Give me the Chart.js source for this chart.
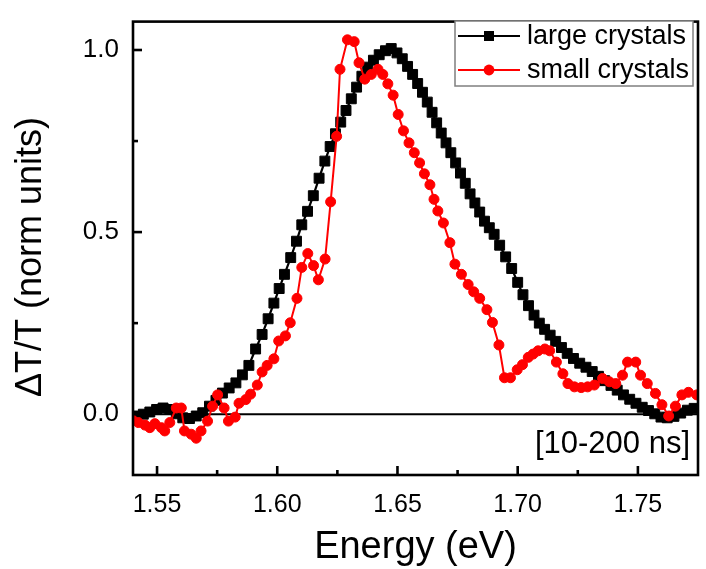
<!DOCTYPE html>
<html>
<head>
<meta charset="utf-8">
<script src="https://cdn.jsdelivr.net/npm/chart.js@4.4.1/dist/chart.umd.min.js"></script>
<style>
  html, body { margin: 0; padding: 0; background: #fff; }
  #wrap { width: 706px; height: 569px; }
</style>
</head>
<body>
<div id="wrap"><canvas id="spectrum" width="706" height="569"></canvas></div>
<script>
(function () {
    'use strict';

    // large crystals (black squares)
    const largeEnergy = [
        1.5415, 1.5443, 1.5470, 1.5498, 1.5525, 1.5553, 1.5580, 1.5607, 1.5635, 1.5663,
        1.5690, 1.5718, 1.5745, 1.5772, 1.5800, 1.5828, 1.5855, 1.5882, 1.5910, 1.5937,
        1.5962, 1.5986, 1.6008, 1.6030, 1.6056, 1.6080, 1.6102, 1.6126, 1.6150, 1.6174,
        1.6198, 1.6220, 1.6242, 1.6264, 1.6286, 1.6308, 1.6330, 1.6352, 1.6376, 1.6400,
        1.6424, 1.6450, 1.6474, 1.6498, 1.6520, 1.6542, 1.6563, 1.6584, 1.6604, 1.6624,
        1.6644, 1.6663, 1.6682, 1.6702, 1.6722, 1.6742, 1.6762, 1.6782, 1.6802, 1.6822,
        1.6842, 1.6862, 1.6882, 1.6902, 1.6925, 1.6950, 1.6975, 1.7000, 1.7022, 1.7045,
        1.7068, 1.7090, 1.7112, 1.7135, 1.7158, 1.7182, 1.7206, 1.7232, 1.7258, 1.7284,
        1.7310, 1.7336, 1.7362, 1.7388, 1.7414, 1.7440, 1.7466, 1.7492, 1.7518, 1.7544,
        1.7570, 1.7596, 1.7622, 1.7650, 1.7678, 1.7706, 1.7734
    ];
    const largeSignal = [
        -0.005, 0.000, 0.006, 0.013, 0.017, 0.013, 0.001, -0.010, -0.012, -0.005,
        0.004, 0.022, 0.038, 0.058, 0.072, 0.086, 0.108, 0.134, 0.179, 0.219,
        0.262, 0.305, 0.345, 0.384, 0.430, 0.475, 0.520, 0.557, 0.600, 0.648,
        0.695, 0.735, 0.770, 0.802, 0.834, 0.866, 0.898, 0.928, 0.953, 0.972,
        0.987, 0.998, 1.004, 0.992, 0.976, 0.955, 0.933, 0.908, 0.884, 0.857,
        0.829, 0.800, 0.772, 0.745, 0.718, 0.690, 0.662, 0.634, 0.605, 0.580,
        0.555, 0.530, 0.512, 0.494, 0.464, 0.432, 0.400, 0.362, 0.328, 0.298,
        0.272, 0.250, 0.233, 0.217, 0.200, 0.183, 0.167, 0.153, 0.140, 0.129,
        0.117, 0.104, 0.092, 0.079, 0.066, 0.053, 0.041, 0.030, 0.019, 0.010,
        0.001, -0.008, -0.010, -0.006, 0.003, 0.011, 0.016
    ];

    // small crystals (red circles)
    const smallEnergy = [
        1.5395, 1.5422, 1.5450, 1.5470, 1.5491, 1.5518, 1.5532, 1.5553, 1.5580, 1.5601,
        1.5614, 1.5642, 1.5663, 1.5683, 1.5710, 1.5731, 1.5752, 1.5779, 1.5797, 1.5825,
        1.5841, 1.5869, 1.5889, 1.5917, 1.5937, 1.5958, 1.5986, 1.6006, 1.6034, 1.6054,
        1.6082, 1.6102, 1.6127, 1.6151, 1.6171, 1.6199, 1.6222, 1.6247, 1.6261, 1.6292,
        1.6320, 1.6340, 1.6364, 1.6391, 1.6419, 1.6439, 1.6460, 1.6482, 1.6503, 1.6525,
        1.6548, 1.6570, 1.6592, 1.6612, 1.6635, 1.6652, 1.6668, 1.6691, 1.6718, 1.6739,
        1.6766, 1.6794, 1.6817, 1.6842, 1.6872, 1.6895, 1.6922, 1.6945, 1.6970, 1.6998,
        1.7020, 1.7044, 1.7064, 1.7085, 1.7113, 1.7133, 1.7161, 1.7188, 1.7209, 1.7236,
        1.7264, 1.7291, 1.7319, 1.7353, 1.7381, 1.7408, 1.7436, 1.7457, 1.7491, 1.7511,
        1.7539, 1.7573, 1.7600, 1.7628, 1.7656, 1.7683, 1.7710, 1.7745
    ];
    const smallSignal = [
        -0.014, -0.023, -0.030, -0.037, -0.026, -0.037, -0.046, -0.023, 0.017, 0.017,
        -0.046, -0.055, -0.066, -0.046, -0.019, 0.022, 0.053, 0.017, -0.019, -0.008,
        0.030, 0.040, 0.055, 0.080, 0.116, 0.134, 0.152, 0.201, 0.215, 0.251,
        0.318, 0.403, 0.441, 0.408, 0.369, 0.426, 0.583, 0.763, 0.947, 1.028,
        1.023, 0.965, 0.920, 0.933, 0.947, 0.933, 0.907, 0.876, 0.823, 0.778,
        0.745, 0.718, 0.690, 0.660, 0.630, 0.590, 0.558, 0.525, 0.471, 0.412,
        0.384, 0.356, 0.336, 0.318, 0.287, 0.252, 0.190, 0.100, 0.100, 0.122,
        0.136, 0.156, 0.165, 0.174, 0.179, 0.174, 0.143, 0.111, 0.084, 0.075,
        0.073, 0.075, 0.080, 0.098, 0.089, 0.084, 0.107, 0.143, 0.143, 0.107,
        0.084, 0.057, 0.026, -0.005, 0.022, 0.053, 0.060, 0.053
    ];

    const xMajorTicks = [1.55, 1.60, 1.65, 1.70, 1.75];
    const xMinorTicks = [1.575, 1.625, 1.675, 1.725];
    const yMajorTicks = [0.0, 0.5, 1.0];
    const yMinorTicks = [0.25, 0.75];
    const seriesLabels = ['large crystals', 'small crystals'];
    const yTitle = 'ΔT/T (norm units)';
    const timeWindow = '[10-200 ns]';

    const FONT = '"Liberation Sans", Arial, Helvetica, sans-serif';
    const BLACK = '#000000';
    const RED = '#ff0000';

    function toPoints(xs, ys) {
        return xs.map((x, i) => ({ x: x, y: ys[i] }));
    }

    // frame, inward ticks, zero line, legend and annotations
    const decorPlugin = {
        id: 'decor',
        beforeDatasetsDraw(chart) {
            const { ctx, chartArea: a, scales: { y } } = chart;
            const y0 = y.getPixelForValue(0);
            ctx.save();
            ctx.strokeStyle = BLACK;
            ctx.lineWidth = 2;
            ctx.beginPath();
            ctx.moveTo(a.left, y0);
            ctx.lineTo(a.right, y0);
            ctx.stroke();
            ctx.restore();
        },
        afterDatasetsDraw(chart) {
            const { ctx, chartArea: a, scales: { x, y } } = chart;
            ctx.save();
            ctx.strokeStyle = BLACK;
            ctx.lineWidth = 2.6;
            ctx.strokeRect(a.left, a.top, a.right - a.left, a.bottom - a.top);

            const tick = (px, len, horizontal) => {
                ctx.beginPath();
                if (horizontal) {
                    ctx.moveTo(px, a.bottom);
                    ctx.lineTo(px, a.bottom - len);
                } else {
                    ctx.moveTo(a.left, px);
                    ctx.lineTo(a.left + len, px);
                }
                ctx.stroke();
            };
            xMajorTicks.forEach(v => tick(x.getPixelForValue(v), 9, true));
            xMinorTicks.forEach(v => tick(x.getPixelForValue(v), 5, true));
            yMajorTicks.forEach(v => tick(y.getPixelForValue(v), 9, false));
            yMinorTicks.forEach(v => tick(y.getPixelForValue(v), 5, false));

            // time window label
            ctx.fillStyle = BLACK;
            ctx.font = '31px ' + FONT;
            ctx.textAlign = 'right';
            ctx.textBaseline = 'middle';
            ctx.fillText(timeWindow, a.right - 8, a.bottom - 31);

            // y axis title, sits a bit below the plot centre
            ctx.save();
            ctx.translate(31, 257);
            ctx.rotate(-Math.PI / 2);
            ctx.font = '36px ' + FONT;
            ctx.textAlign = 'center';
            ctx.textBaseline = 'middle';
            ctx.fillText(yTitle, 0, 0);
            ctx.restore();

            // legend box
            const lx = 455, ly = 21, lw = 238, lh = 65;
            ctx.fillStyle = '#ffffff';
            ctx.fillRect(lx, ly, lw, lh);
            ctx.strokeStyle = '#7f7f7f';
            ctx.lineWidth = 1.5;
            ctx.strokeRect(lx, ly, lw, lh);

            chart.data.datasets.forEach((ds, i) => {
                const rowY = ly + 15 + i * 34;
                ctx.strokeStyle = ds.borderColor;
                ctx.lineWidth = 2;
                ctx.beginPath();
                ctx.moveTo(lx + 3, rowY);
                ctx.lineTo(lx + 65, rowY);
                ctx.stroke();
                ctx.fillStyle = ds.pointBackgroundColor;
                if (ds.pointStyle === 'rect') {
                    ctx.fillRect(lx + 34 - 5, rowY - 5, 10, 10);
                } else {
                    ctx.beginPath();
                    ctx.arc(lx + 34, rowY, 5.4, 0, Math.PI * 2);
                    ctx.fill();
                }
                ctx.fillStyle = BLACK;
                ctx.font = '27px ' + FONT;
                ctx.textAlign = 'left';
                ctx.textBaseline = 'middle';
                ctx.fillText(ds.label, lx + 72, rowY + 1);
            });
            ctx.restore();
        }
    };

    const canvas = document.getElementById('spectrum');
    new Chart(canvas.getContext('2d'), {
        type: 'scatter',
        data: {
            datasets: [
                {
                    label: seriesLabels[0],
                    data: toPoints(largeEnergy, largeSignal),
                    showLine: true,
                    borderColor: BLACK,
                    borderWidth: 2.2,
                    pointStyle: 'rect',
                    pointRadius: 7,
                    pointBorderWidth: 1,
                    pointBackgroundColor: BLACK,
                    pointBorderColor: BLACK,
                    order: 2
                },
                {
                    label: seriesLabels[1],
                    data: toPoints(smallEnergy, smallSignal),
                    showLine: true,
                    borderColor: RED,
                    borderWidth: 2,
                    pointStyle: 'circle',
                    pointRadius: 5,
                    pointBorderWidth: 1,
                    pointBackgroundColor: RED,
                    pointBorderColor: RED,
                    order: 1
                }
            ]
        },
        options: {
            responsive: false,
            animation: false,
            events: [],
            layout: { padding: { top: 13, right: 3, left: 0, bottom: 0 } },
            scales: {
                x: {
                    type: 'linear',
                    min: 1.54,
                    max: 1.775,
                    grid: { display: false },
                    border: { display: false },
                    afterBuildTicks: s => { s.ticks = xMajorTicks.map(v => ({ value: v })); },
                    afterFit: s => { s.height = 94; },
                    ticks: {
                        color: BLACK,
                        padding: 7,
                        font: { family: FONT, size: 25, lineHeight: 1.2 },
                        callback: v => v.toFixed(2)
                    },
                    title: {
                        display: true,
                        text: 'Energy (eV)',
                        color: BLACK,
                        padding: { top: 0, bottom: 2 },
                        font: { family: FONT, size: 38, lineHeight: 1 }
                    }
                },
                y: {
                    type: 'linear',
                    min: -0.167,
                    max: 1.078,
                    grid: { display: false },
                    border: { display: false },
                    afterBuildTicks: s => { s.ticks = yMajorTicks.map(v => ({ value: v })); },
                    afterFit: s => { s.width = 133; },
                    ticks: {
                        color: BLACK,
                        padding: 6,
                        font: { family: FONT, size: 26, lineHeight: 1.2 },
                        callback: v => v.toFixed(1)
                    },
                    title: { display: false }
                }
            },
            plugins: {
                legend: { display: false },
                tooltip: { enabled: false }
            }
        },
        plugins: [decorPlugin]
    });
})();
</script>
</body>
</html>
